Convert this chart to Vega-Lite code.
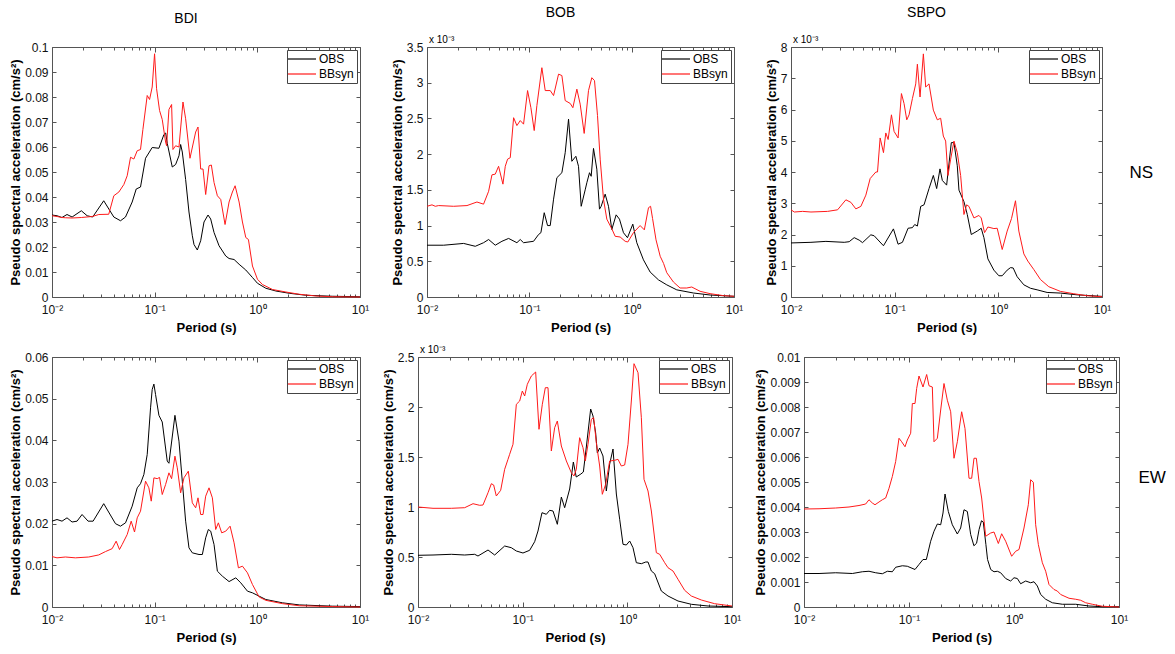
{
  "$schema": "https://vega.github.io/schema/vega-lite/v6.json",
  "padding": {"left": 9, "top": 6, "right": 5, "bottom": 5},
  "config": {
    "font": "Liberation Sans",
    "view": {"stroke": null},
    "axis": {"grid": false, "domainColor": "#555555", "tickColor": "#555555", "domainWidth": 1, "tickWidth": 1, "labelFontSize": 12, "labelColor": "#111111", "labelFont": "Liberation Sans", "titleFont": "Liberation Sans", "titleFontSize": 13, "titleFontWeight": "bold", "titleColor": "#000000", "labelFlush": false},
    "title": {"font": "Liberation Sans", "fontSize": 14, "fontWeight": "normal", "color": "#000000"},
    "legend": {"labelFont": "Liberation Sans"}
  },
  "datasets": {
    "bdi_ns": [
      {"s":"OBS","p":0.01,"v":0.0328},{"s":"OBS","p":0.0112,"v":0.0325},{"s":"OBS","p":0.0125,"v":0.0318},{"s":"OBS","p":0.014,"v":0.033},{"s":"OBS","p":0.0157,"v":0.032},{"s":"OBS","p":0.0193,"v":0.0345},{"s":"OBS","p":0.022,"v":0.0325},{"s":"OBS","p":0.0249,"v":0.032},{"s":"OBS","p":0.0319,"v":0.0385},{"s":"OBS","p":0.04,"v":0.032},{"s":"OBS","p":0.0465,"v":0.0305},{"s":"OBS","p":0.052,"v":0.032},{"s":"OBS","p":0.0604,"v":0.038},{"s":"OBS","p":0.0661,"v":0.0432},{"s":"OBS","p":0.0728,"v":0.044},{"s":"OBS","p":0.0815,"v":0.0555},{"s":"OBS","p":0.0946,"v":0.0598},{"s":"OBS","p":0.11,"v":0.0595},{"s":"OBS","p":0.1231,"v":0.065},{"s":"OBS","p":0.128,"v":0.0656},{"s":"OBS","p":0.1326,"v":0.0615},{"s":"OBS","p":0.1484,"v":0.052},{"s":"OBS","p":0.16,"v":0.053},{"s":"OBS","p":0.1725,"v":0.0565},{"s":"OBS","p":0.179,"v":0.061},{"s":"OBS","p":0.1858,"v":0.058},{"s":"OBS","p":0.2003,"v":0.047},{"s":"OBS","p":0.2159,"v":0.034},{"s":"OBS","p":0.2327,"v":0.0245},{"s":"OBS","p":0.2416,"v":0.021},{"s":"OBS","p":0.2603,"v":0.0188},{"s":"OBS","p":0.2807,"v":0.0225},{"s":"OBS","p":0.3024,"v":0.03},{"s":"OBS","p":0.3309,"v":0.0328},{"s":"OBS","p":0.3513,"v":0.0312},{"s":"OBS","p":0.3787,"v":0.0258},{"s":"OBS","p":0.4237,"v":0.0205},{"s":"OBS","p":0.4924,"v":0.0164},{"s":"OBS","p":0.5305,"v":0.0154},{"s":"OBS","p":0.5937,"v":0.015},{"s":"OBS","p":0.6643,"v":0.0131},{"s":"OBS","p":0.7717,"v":0.0108},{"s":"OBS","p":0.8964,"v":0.0078},{"s":"OBS","p":1.003,"v":0.0055},{"s":"OBS","p":1.21,"v":0.0035},{"s":"OBS","p":1.515,"v":0.0024},{"s":"OBS","p":2.044,"v":0.0015},{"s":"OBS","p":2.97,"v":0.0007},{"s":"OBS","p":5.4,"v":0.0003},{"s":"OBS","p":10,"v":0.0001},
      {"s":"BBsyn","p":0.01,"v":0.0325},{"s":"BBsyn","p":0.0112,"v":0.0322},{"s":"BBsyn","p":0.0125,"v":0.0318},{"s":"BBsyn","p":0.0135,"v":0.0317},{"s":"BBsyn","p":0.0157,"v":0.0316},{"s":"BBsyn","p":0.0193,"v":0.0318},{"s":"BBsyn","p":0.0246,"v":0.0322},{"s":"BBsyn","p":0.0286,"v":0.033},{"s":"BBsyn","p":0.0357,"v":0.0331},{"s":"BBsyn","p":0.04,"v":0.0405},{"s":"BBsyn","p":0.0448,"v":0.042},{"s":"BBsyn","p":0.0501,"v":0.045},{"s":"BBsyn","p":0.054,"v":0.0485},{"s":"BBsyn","p":0.0582,"v":0.0559},{"s":"BBsyn","p":0.0627,"v":0.0552},{"s":"BBsyn","p":0.0676,"v":0.0585},{"s":"BBsyn","p":0.0728,"v":0.059},{"s":"BBsyn","p":0.0768,"v":0.067},{"s":"BBsyn","p":0.0846,"v":0.0806},{"s":"BBsyn","p":0.0892,"v":0.079},{"s":"BBsyn","p":0.0946,"v":0.084},{"s":"BBsyn","p":0.0998,"v":0.0973},{"s":"BBsyn","p":0.1044,"v":0.0833},{"s":"BBsyn","p":0.1116,"v":0.0746},{"s":"BBsyn","p":0.1185,"v":0.071},{"s":"BBsyn","p":0.1278,"v":0.062},{"s":"BBsyn","p":0.1307,"v":0.0605},{"s":"BBsyn","p":0.1377,"v":0.075},{"s":"BBsyn","p":0.1462,"v":0.077},{"s":"BBsyn","p":0.1507,"v":0.059},{"s":"BBsyn","p":0.16,"v":0.0605},{"s":"BBsyn","p":0.1725,"v":0.06},{"s":"BBsyn","p":0.1887,"v":0.078},{"s":"BBsyn","p":0.2003,"v":0.0713},{"s":"BBsyn","p":0.2159,"v":0.0592},{"s":"BBsyn","p":0.2208,"v":0.0555},{"s":"BBsyn","p":0.2508,"v":0.066},{"s":"BBsyn","p":0.2643,"v":0.068},{"s":"BBsyn","p":0.2807,"v":0.0512},{"s":"BBsyn","p":0.2958,"v":0.0512},{"s":"BBsyn","p":0.314,"v":0.041},{"s":"BBsyn","p":0.3384,"v":0.0525},{"s":"BBsyn","p":0.3566,"v":0.0528},{"s":"BBsyn","p":0.3787,"v":0.0458},{"s":"BBsyn","p":0.408,"v":0.0405},{"s":"BBsyn","p":0.44,"v":0.039},{"s":"BBsyn","p":0.4849,"v":0.029},{"s":"BBsyn","p":0.5305,"v":0.038},{"s":"BBsyn","p":0.5718,"v":0.042},{"s":"BBsyn","p":0.6073,"v":0.0445},{"s":"BBsyn","p":0.6643,"v":0.038},{"s":"BBsyn","p":0.716,"v":0.03},{"s":"BBsyn","p":0.7717,"v":0.0238},{"s":"BBsyn","p":0.819,"v":0.023},{"s":"BBsyn","p":0.8964,"v":0.0124},{"s":"BBsyn","p":1.003,"v":0.0071},{"s":"BBsyn","p":1.122,"v":0.005},{"s":"BBsyn","p":1.405,"v":0.003},{"s":"BBsyn","p":1.897,"v":0.002},{"s":"BBsyn","p":2.56,"v":0.0011},{"s":"BBsyn","p":3.72,"v":0.0004},{"s":"BBsyn","p":5.415,"v":0.0001},{"s":"BBsyn","p":10,"v":0}
    ],
    "bob_ns": [
      {"s":"OBS","p":0.01,"v":0.000725},{"s":"OBS","p":0.01455,"v":0.000725},{"s":"OBS","p":0.0228,"v":0.00075},{"s":"OBS","p":0.02964,"v":0.00071},{"s":"OBS","p":0.0357,"v":0.00076},{"s":"OBS","p":0.04,"v":0.000805},{"s":"OBS","p":0.04646,"v":0.000725},{"s":"OBS","p":0.054,"v":0.00078},{"s":"OBS","p":0.0627,"v":0.00082},{"s":"OBS","p":0.0756,"v":0.00076},{"s":"OBS","p":0.0815,"v":0.000805},{"s":"OBS","p":0.0878,"v":0.00076},{"s":"OBS","p":0.11,"v":0.00078},{"s":"OBS","p":0.1231,"v":0.000875},{"s":"OBS","p":0.1297,"v":0.0009},{"s":"OBS","p":0.1398,"v":0.00118},{"s":"OBS","p":0.1507,"v":0.001},{"s":"OBS","p":0.16,"v":0.001},{"s":"OBS","p":0.1725,"v":0.00137},{"s":"OBS","p":0.1858,"v":0.00167},{"s":"OBS","p":0.208,"v":0.00174},{"s":"OBS","p":0.2241,"v":0.00202},{"s":"OBS","p":0.2416,"v":0.00249},{"s":"OBS","p":0.2603,"v":0.0019},{"s":"OBS","p":0.2849,"v":0.00197},{"s":"OBS","p":0.3024,"v":0.00183},{"s":"OBS","p":0.3212,"v":0.00127},{"s":"OBS","p":0.3513,"v":0.0015},{"s":"OBS","p":0.3648,"v":0.0016},{"s":"OBS","p":0.3873,"v":0.00174},{"s":"OBS","p":0.4021,"v":0.00169},{"s":"OBS","p":0.4237,"v":0.00208},{"s":"OBS","p":0.4566,"v":0.00179},{"s":"OBS","p":0.4849,"v":0.00123},{"s":"OBS","p":0.5035,"v":0.00127},{"s":"OBS","p":0.5508,"v":0.00144},{"s":"OBS","p":0.5937,"v":0.00127},{"s":"OBS","p":0.6397,"v":0.000945},{"s":"OBS","p":0.7053,"v":0.00115},{"s":"OBS","p":0.7602,"v":0.00109},{"s":"OBS","p":0.8318,"v":0.0009},{"s":"OBS","p":0.9099,"v":0.00083},{"s":"OBS","p":1.026,"v":0.00102},{"s":"OBS","p":1.122,"v":0.00076},{"s":"OBS","p":1.304,"v":0.00052},{"s":"OBS","p":1.515,"v":0.00035},{"s":"OBS","p":1.827,"v":0.00024},{"s":"OBS","p":2.203,"v":0.00017},{"s":"OBS","p":2.758,"v":0.0001},{"s":"OBS","p":4.012,"v":0.000056},{"s":"OBS","p":5.834,"v":0.000028},{"s":"OBS","p":10,"v":0.00001},
      {"s":"BBsyn","p":0.01,"v":0.00127},{"s":"BBsyn","p":0.01119,"v":0.00129},{"s":"BBsyn","p":0.01206,"v":0.00127},{"s":"BBsyn","p":0.013,"v":0.00128},{"s":"BBsyn","p":0.0182,"v":0.00127},{"s":"BBsyn","p":0.02458,"v":0.00128},{"s":"BBsyn","p":0.03077,"v":0.00133},{"s":"BBsyn","p":0.0357,"v":0.0013},{"s":"BBsyn","p":0.04,"v":0.00148},{"s":"BBsyn","p":0.04311,"v":0.00171},{"s":"BBsyn","p":0.04646,"v":0.00172},{"s":"BBsyn","p":0.05007,"v":0.00183},{"s":"BBsyn","p":0.05521,"v":0.00158},{"s":"BBsyn","p":0.0582,"v":0.00183},{"s":"BBsyn","p":0.0613,"v":0.00193},{"s":"BBsyn","p":0.0651,"v":0.00195},{"s":"BBsyn","p":0.0702,"v":0.00251},{"s":"BBsyn","p":0.0756,"v":0.0024},{"s":"BBsyn","p":0.0815,"v":0.00247},{"s":"BBsyn","p":0.0878,"v":0.00242},{"s":"BBsyn","p":0.0961,"v":0.00289},{"s":"BBsyn","p":0.1036,"v":0.00265},{"s":"BBsyn","p":0.1116,"v":0.00233},{"s":"BBsyn","p":0.1185,"v":0.00268},{"s":"BBsyn","p":0.1326,"v":0.00321},{"s":"BBsyn","p":0.143,"v":0.00289},{"s":"BBsyn","p":0.16,"v":0.00289},{"s":"BBsyn","p":0.1725,"v":0.00282},{"s":"BBsyn","p":0.193,"v":0.00312},{"s":"BBsyn","p":0.208,"v":0.0031},{"s":"BBsyn","p":0.2241,"v":0.00275},{"s":"BBsyn","p":0.2508,"v":0.00271},{"s":"BBsyn","p":0.2663,"v":0.00265},{"s":"BBsyn","p":0.2914,"v":0.00291},{"s":"BBsyn","p":0.314,"v":0.0027},{"s":"BBsyn","p":0.3435,"v":0.00229},{"s":"BBsyn","p":0.3787,"v":0.00289},{"s":"BBsyn","p":0.408,"v":0.00307},{"s":"BBsyn","p":0.4334,"v":0.00303},{"s":"BBsyn","p":0.4636,"v":0.00254},{"s":"BBsyn","p":0.4924,"v":0.00193},{"s":"BBsyn","p":0.5305,"v":0.00137},{"s":"BBsyn","p":0.5718,"v":0.00109},{"s":"BBsyn","p":0.6397,"v":0.000955},{"s":"BBsyn","p":0.6897,"v":0.00085},{"s":"BBsyn","p":0.7717,"v":0.00084},{"s":"BBsyn","p":0.8637,"v":0.00078},{"s":"BBsyn","p":0.9167,"v":0.00077},{"s":"BBsyn","p":1.041,"v":0.0009},{"s":"BBsyn","p":1.21,"v":0.001},{"s":"BBsyn","p":1.33,"v":0.00094},{"s":"BBsyn","p":1.46,"v":0.00125},{"s":"BBsyn","p":1.53,"v":0.00127},{"s":"BBsyn","p":1.6,"v":0.0011},{"s":"BBsyn","p":1.73,"v":0.0008},{"s":"BBsyn","p":1.9,"v":0.00057},{"s":"BBsyn","p":2.05,"v":0.00047},{"s":"BBsyn","p":2.203,"v":0.00034},{"s":"BBsyn","p":2.559,"v":0.00021},{"s":"BBsyn","p":2.973,"v":0.000126},{"s":"BBsyn","p":3.454,"v":0.000126},{"s":"BBsyn","p":3.864,"v":0.00014},{"s":"BBsyn","p":4.661,"v":0.00008},{"s":"BBsyn","p":5.834,"v":0.000047},{"s":"BBsyn","p":7.874,"v":0.000019},{"s":"BBsyn","p":10,"v":0.00001}
    ],
    "sbpo_ns": [
      {"s":"OBS","p":0.01,"v":0.00173},{"s":"OBS","p":0.01558,"v":0.00175},{"s":"OBS","p":0.02172,"v":0.00178},{"s":"OBS","p":0.0326,"v":0.00175},{"s":"OBS","p":0.03642,"v":0.00177},{"s":"OBS","p":0.0407,"v":0.0019},{"s":"OBS","p":0.04547,"v":0.00182},{"s":"OBS","p":0.04896,"v":0.00174},{"s":"OBS","p":0.0589,"v":0.00199},{"s":"OBS","p":0.0634,"v":0.00196},{"s":"OBS","p":0.078,"v":0.00164},{"s":"OBS","p":0.0973,"v":0.00218},{"s":"OBS","p":0.1079,"v":0.00169},{"s":"OBS","p":0.1188,"v":0.00175},{"s":"OBS","p":0.1347,"v":0.0022},{"s":"OBS","p":0.1483,"v":0.00222},{"s":"OBS","p":0.1561,"v":0.00232},{"s":"OBS","p":0.1656,"v":0.00227},{"s":"OBS","p":0.1783,"v":0.0029},{"s":"OBS","p":0.192,"v":0.00295},{"s":"OBS","p":0.2145,"v":0.00347},{"s":"OBS","p":0.2361,"v":0.00389},{"s":"OBS","p":0.2542,"v":0.00347},{"s":"OBS","p":0.2737,"v":0.0041},{"s":"OBS","p":0.2883,"v":0.00373},{"s":"OBS","p":0.3172,"v":0.00358},{"s":"OBS","p":0.3519,"v":0.00494},{"s":"OBS","p":0.3733,"v":0.00494},{"s":"OBS","p":0.4019,"v":0.0042},{"s":"OBS","p":0.417,"v":0.00342},{"s":"OBS","p":0.4659,"v":0.00305},{"s":"OBS","p":0.5017,"v":0.00264},{"s":"OBS","p":0.5483,"v":0.002},{"s":"OBS","p":0.626,"v":0.00211},{"s":"OBS","p":0.684,"v":0.0022},{"s":"OBS","p":0.7259,"v":0.0019},{"s":"OBS","p":0.7932,"v":0.00122},{"s":"OBS","p":0.9057,"v":0.00086},{"s":"OBS","p":1.012,"v":0.00068},{"s":"OBS","p":1.09,"v":0.00068},{"s":"OBS","p":1.217,"v":0.00086},{"s":"OBS","p":1.31,"v":0.00094},{"s":"OBS","p":1.39,"v":0.00093},{"s":"OBS","p":1.519,"v":0.00065},{"s":"OBS","p":1.762,"v":0.00039},{"s":"OBS","p":2.042,"v":0.00028},{"s":"OBS","p":2.366,"v":0.00023},{"s":"OBS","p":2.953,"v":0.000146},{"s":"OBS","p":3.97,"v":0.000126},{"s":"OBS","p":5.742,"v":0.00007},{"s":"OBS","p":10,"v":0.00002},
      {"s":"BBsyn","p":0.01,"v":0.00279},{"s":"BBsyn","p":0.01077,"v":0.00272},{"s":"BBsyn","p":0.01295,"v":0.00274},{"s":"BBsyn","p":0.01558,"v":0.00272},{"s":"BBsyn","p":0.02254,"v":0.00274},{"s":"BBsyn","p":0.02813,"v":0.00279},{"s":"BBsyn","p":0.03383,"v":0.00311},{"s":"BBsyn","p":0.0378,"v":0.00303},{"s":"BBsyn","p":0.04223,"v":0.00282},{"s":"BBsyn","p":0.04718,"v":0.0029},{"s":"BBsyn","p":0.05272,"v":0.00326},{"s":"BBsyn","p":0.05801,"v":0.00379},{"s":"BBsyn","p":0.0658,"v":0.004},{"s":"BBsyn","p":0.0683,"v":0.004},{"s":"BBsyn","p":0.0724,"v":0.00509},{"s":"BBsyn","p":0.078,"v":0.00462},{"s":"BBsyn","p":0.0821,"v":0.00525},{"s":"BBsyn","p":0.0865,"v":0.00504},{"s":"BBsyn","p":0.0931,"v":0.00583},{"s":"BBsyn","p":0.0987,"v":0.0053},{"s":"BBsyn","p":0.1079,"v":0.00509},{"s":"BBsyn","p":0.1162,"v":0.00651},{"s":"BBsyn","p":0.1232,"v":0.00619},{"s":"BBsyn","p":0.1308,"v":0.00567},{"s":"BBsyn","p":0.1377,"v":0.00583},{"s":"BBsyn","p":0.1483,"v":0.00635},{"s":"BBsyn","p":0.1597,"v":0.00682},{"s":"BBsyn","p":0.1656,"v":0.00745},{"s":"BBsyn","p":0.1757,"v":0.0064},{"s":"BBsyn","p":0.1892,"v":0.00778},{"s":"BBsyn","p":0.1992,"v":0.00672},{"s":"BBsyn","p":0.2145,"v":0.00682},{"s":"BBsyn","p":0.2361,"v":0.00598},{"s":"BBsyn","p":0.2579,"v":0.00567},{"s":"BBsyn","p":0.2778,"v":0.00572},{"s":"BBsyn","p":0.2947,"v":0.00515},{"s":"BBsyn","p":0.3103,"v":0.00499},{"s":"BBsyn","p":0.3268,"v":0.00389},{"s":"BBsyn","p":0.3467,"v":0.00441},{"s":"BBsyn","p":0.3733,"v":0.00499},{"s":"BBsyn","p":0.4019,"v":0.00462},{"s":"BBsyn","p":0.4328,"v":0.00389},{"s":"BBsyn","p":0.4659,"v":0.00264},{"s":"BBsyn","p":0.4942,"v":0.00295},{"s":"BBsyn","p":0.5206,"v":0.0029},{"s":"BBsyn","p":0.5815,"v":0.00253},{"s":"BBsyn","p":0.6497,"v":0.00261},{"s":"BBsyn","p":0.684,"v":0.00253},{"s":"BBsyn","p":0.7367,"v":0.00206},{"s":"BBsyn","p":0.7932,"v":0.00224},{"s":"BBsyn","p":0.9057,"v":0.00219},{"s":"BBsyn","p":0.975,"v":0.0022},{"s":"BBsyn","p":1.09,"v":0.00152},{"s":"BBsyn","p":1.217,"v":0.00211},{"s":"BBsyn","p":1.34,"v":0.00251},{"s":"BBsyn","p":1.464,"v":0.00308},{"s":"BBsyn","p":1.577,"v":0.00211},{"s":"BBsyn","p":1.762,"v":0.00138},{"s":"BBsyn","p":1.925,"v":0.00115},{"s":"BBsyn","p":2.198,"v":0.00088},{"s":"BBsyn","p":2.548,"v":0.00056},{"s":"BBsyn","p":3.065,"v":0.00033},{"s":"BBsyn","p":3.97,"v":0.00018},{"s":"BBsyn","p":5.333,"v":0.000105},{"s":"BBsyn","p":7.166,"v":0.00004},{"s":"BBsyn","p":10,"v":0.00001}
    ],
    "bdi_ew": [
      {"s":"OBS","p":0.01,"v":0.0206},{"s":"OBS","p":0.01119,"v":0.021},{"s":"OBS","p":0.01252,"v":0.0206},{"s":"OBS","p":0.014,"v":0.0214},{"s":"OBS","p":0.01568,"v":0.0204},{"s":"OBS","p":0.01754,"v":0.0206},{"s":"OBS","p":0.01963,"v":0.0222},{"s":"OBS","p":0.02246,"v":0.0206},{"s":"OBS","p":0.02514,"v":0.0206},{"s":"OBS","p":0.0319,"v":0.0248},{"s":"OBS","p":0.04152,"v":0.02},{"s":"OBS","p":0.04645,"v":0.0194},{"s":"OBS","p":0.052,"v":0.0202},{"s":"OBS","p":0.0604,"v":0.0242},{"s":"OBS","p":0.0676,"v":0.0286},{"s":"OBS","p":0.0728,"v":0.0296},{"s":"OBS","p":0.0785,"v":0.0318},{"s":"OBS","p":0.0846,"v":0.0366},{"s":"OBS","p":0.0912,"v":0.0478},{"s":"OBS","p":0.0946,"v":0.0522},{"s":"OBS","p":0.0983,"v":0.0535},{"s":"OBS","p":0.102,"v":0.051},{"s":"OBS","p":0.11,"v":0.046},{"s":"OBS","p":0.1185,"v":0.0444},{"s":"OBS","p":0.1326,"v":0.035},{"s":"OBS","p":0.1377,"v":0.0345},{"s":"OBS","p":0.1576,"v":0.046},{"s":"OBS","p":0.1725,"v":0.0398},{"s":"OBS","p":0.1858,"v":0.0302},{"s":"OBS","p":0.2003,"v":0.0206},{"s":"OBS","p":0.2159,"v":0.0142},{"s":"OBS","p":0.2327,"v":0.013},{"s":"OBS","p":0.2703,"v":0.0126},{"s":"OBS","p":0.2914,"v":0.0126},{"s":"OBS","p":0.314,"v":0.0166},{"s":"OBS","p":0.3334,"v":0.0186},{"s":"OBS","p":0.3513,"v":0.0182},{"s":"OBS","p":0.3787,"v":0.015},{"s":"OBS","p":0.408,"v":0.0086},{"s":"OBS","p":0.4566,"v":0.0074},{"s":"OBS","p":0.5305,"v":0.0061},{"s":"OBS","p":0.6165,"v":0.007},{"s":"OBS","p":0.6897,"v":0.0058},{"s":"OBS","p":0.8013,"v":0.0038},{"s":"OBS","p":0.8964,"v":0.0034},{"s":"OBS","p":1.041,"v":0.0026},{"s":"OBS","p":1.21,"v":0.0018},{"s":"OBS","p":1.76,"v":0.001},{"s":"OBS","p":2.56,"v":0.0005},{"s":"OBS","p":5.415,"v":0.0002},{"s":"OBS","p":10,"v":0.0001},
      {"s":"BBsyn","p":0.01,"v":0.0121},{"s":"BBsyn","p":0.01119,"v":0.0118},{"s":"BBsyn","p":0.0135,"v":0.012},{"s":"BBsyn","p":0.0169,"v":0.0118},{"s":"BBsyn","p":0.0228,"v":0.012},{"s":"BBsyn","p":0.02855,"v":0.0125},{"s":"BBsyn","p":0.03317,"v":0.0133},{"s":"BBsyn","p":0.03853,"v":0.014},{"s":"BBsyn","p":0.04215,"v":0.0158},{"s":"BBsyn","p":0.04543,"v":0.0138},{"s":"BBsyn","p":0.04824,"v":0.015},{"s":"BBsyn","p":0.054,"v":0.0174},{"s":"BBsyn","p":0.05905,"v":0.0206},{"s":"BBsyn","p":0.06366,"v":0.018},{"s":"BBsyn","p":0.0676,"v":0.0214},{"s":"BBsyn","p":0.0728,"v":0.023},{"s":"BBsyn","p":0.0815,"v":0.0302},{"s":"BBsyn","p":0.0878,"v":0.0286},{"s":"BBsyn","p":0.0926,"v":0.0254},{"s":"BBsyn","p":0.0983,"v":0.031},{"s":"BBsyn","p":0.1059,"v":0.0308},{"s":"BBsyn","p":0.1116,"v":0.0311},{"s":"BBsyn","p":0.1185,"v":0.027},{"s":"BBsyn","p":0.1278,"v":0.0294},{"s":"BBsyn","p":0.1377,"v":0.0322},{"s":"BBsyn","p":0.1462,"v":0.0308},{"s":"BBsyn","p":0.1576,"v":0.0362},{"s":"BBsyn","p":0.1661,"v":0.0334},{"s":"BBsyn","p":0.179,"v":0.0274},{"s":"BBsyn","p":0.193,"v":0.031},{"s":"BBsyn","p":0.2127,"v":0.0326},{"s":"BBsyn","p":0.2327,"v":0.025},{"s":"BBsyn","p":0.2508,"v":0.0238},{"s":"BBsyn","p":0.2643,"v":0.0262},{"s":"BBsyn","p":0.2807,"v":0.0222},{"s":"BBsyn","p":0.2958,"v":0.0222},{"s":"BBsyn","p":0.314,"v":0.0266},{"s":"BBsyn","p":0.3384,"v":0.0286},{"s":"BBsyn","p":0.3648,"v":0.0262},{"s":"BBsyn","p":0.3931,"v":0.0186},{"s":"BBsyn","p":0.4173,"v":0.0202},{"s":"BBsyn","p":0.4498,"v":0.0178},{"s":"BBsyn","p":0.4924,"v":0.0182},{"s":"BBsyn","p":0.5428,"v":0.0194},{"s":"BBsyn","p":0.5937,"v":0.0154},{"s":"BBsyn","p":0.6543,"v":0.0094},{"s":"BBsyn","p":0.716,"v":0.0098},{"s":"BBsyn","p":0.8013,"v":0.0082},{"s":"BBsyn","p":0.8964,"v":0.0054},{"s":"BBsyn","p":1.041,"v":0.0024},{"s":"BBsyn","p":1.21,"v":0.0016},{"s":"BBsyn","p":1.76,"v":0.0008},{"s":"BBsyn","p":2.56,"v":0.0003},{"s":"BBsyn","p":5.415,"v":0.0001},{"s":"BBsyn","p":10,"v":0}
    ],
    "bob_ew": [
      {"s":"OBS","p":0.01,"v":0.000517},{"s":"OBS","p":0.01391,"v":0.00052},{"s":"OBS","p":0.02082,"v":0.000527},{"s":"OBS","p":0.02792,"v":0.00052},{"s":"OBS","p":0.03478,"v":0.000527},{"s":"OBS","p":0.03743,"v":0.00051},{"s":"OBS","p":0.04666,"v":0.00057},{"s":"OBS","p":0.05402,"v":0.00052},{"s":"OBS","p":0.0673,"v":0.00061},{"s":"OBS","p":0.0779,"v":0.000593},{"s":"OBS","p":0.08699,"v":0.00056},{"s":"OBS","p":0.1007,"v":0.00054},{"s":"OBS","p":0.1166,"v":0.000567},{"s":"OBS","p":0.1302,"v":0.000653},{"s":"OBS","p":0.1401,"v":0.00076},{"s":"OBS","p":0.153,"v":0.000943},{"s":"OBS","p":0.1683,"v":0.000927},{"s":"OBS","p":0.1811,"v":0.000967},{"s":"OBS","p":0.1949,"v":0.00096},{"s":"OBS","p":0.2144,"v":0.000827},{"s":"OBS","p":0.2342,"v":0.0011},{"s":"OBS","p":0.2519,"v":0.000993},{"s":"OBS","p":0.2812,"v":0.00118},{"s":"OBS","p":0.305,"v":0.00145},{"s":"OBS","p":0.325,"v":0.0013},{"s":"OBS","p":0.36,"v":0.00133},{"s":"OBS","p":0.38,"v":0.00135},{"s":"OBS","p":0.4057,"v":0.0016},{"s":"OBS","p":0.4464,"v":0.00198},{"s":"OBS","p":0.4699,"v":0.00191},{"s":"OBS","p":0.4983,"v":0.00174},{"s":"OBS","p":0.5169,"v":0.00154},{"s":"OBS","p":0.5441,"v":0.00159},{"s":"OBS","p":0.5854,"v":0.00151},{"s":"OBS","p":0.63,"v":0.00116},{"s":"OBS","p":0.6781,"v":0.00143},{"s":"OBS","p":0.7297,"v":0.00158},{"s":"OBS","p":0.7854,"v":0.00113},{"s":"OBS","p":0.845,"v":0.000877},{"s":"OBS","p":0.9092,"v":0.000627},{"s":"OBS","p":0.978,"v":0.00062},{"s":"OBS","p":1.053,"v":0.00066},{"s":"OBS","p":1.133,"v":0.000593},{"s":"OBS","p":1.219,"v":0.000443},{"s":"OBS","p":1.361,"v":0.000433},{"s":"OBS","p":1.5,"v":0.00045},{"s":"OBS","p":1.576,"v":0.00045},{"s":"OBS","p":1.696,"v":0.00036},{"s":"OBS","p":1.824,"v":0.000333},{"s":"OBS","p":2.113,"v":0.00016},{"s":"OBS","p":2.446,"v":0.00011},{"s":"OBS","p":3.049,"v":0.00006},{"s":"OBS","p":4.089,"v":0.000027},{"s":"OBS","p":5.898,"v":0.00001},{"s":"OBS","p":10,"v":0.000003},
      {"s":"BBsyn","p":0.01,"v":0.001},{"s":"BBsyn","p":0.01391,"v":0.000987},{"s":"BBsyn","p":0.02082,"v":0.000987},{"s":"BBsyn","p":0.02792,"v":0.000993},{"s":"BBsyn","p":0.03355,"v":0.001033},{"s":"BBsyn","p":0.03883,"v":0.001017},{"s":"BBsyn","p":0.04178,"v":0.00102},{"s":"BBsyn","p":0.04666,"v":0.001143},{"s":"BBsyn","p":0.05022,"v":0.001233},{"s":"BBsyn","p":0.05284,"v":0.00122},{"s":"BBsyn","p":0.05602,"v":0.00111},{"s":"BBsyn","p":0.06164,"v":0.001167},{"s":"BBsyn","p":0.0673,"v":0.001377},{"s":"BBsyn","p":0.07241,"v":0.001477},{"s":"BBsyn","p":0.07511,"v":0.001527},{"s":"BBsyn","p":0.08084,"v":0.001627},{"s":"BBsyn","p":0.08699,"v":0.002027},{"s":"BBsyn","p":0.09361,"v":0.00206},{"s":"BBsyn","p":0.09926,"v":0.00216},{"s":"BBsyn","p":0.1045,"v":0.00211},{"s":"BBsyn","p":0.1108,"v":0.002227},{"s":"BBsyn","p":0.121,"v":0.00231},{"s":"BBsyn","p":0.1331,"v":0.00235},{"s":"BBsyn","p":0.1432,"v":0.001777},{"s":"BBsyn","p":0.1541,"v":0.002027},{"s":"BBsyn","p":0.1646,"v":0.002193},{"s":"BBsyn","p":0.1746,"v":0.002193},{"s":"BBsyn","p":0.1879,"v":0.00156},{"s":"BBsyn","p":0.2021,"v":0.001793},{"s":"BBsyn","p":0.2144,"v":0.00186},{"s":"BBsyn","p":0.2342,"v":0.00161},{"s":"BBsyn","p":0.2615,"v":0.00146},{"s":"BBsyn","p":0.2917,"v":0.001343},{"s":"BBsyn","p":0.3093,"v":0.00131},{"s":"BBsyn","p":0.3256,"v":0.001377},{"s":"BBsyn","p":0.3504,"v":0.001693},{"s":"BBsyn","p":0.3771,"v":0.001593},{"s":"BBsyn","p":0.3968,"v":0.00146},{"s":"BBsyn","p":0.4209,"v":0.001627},{"s":"BBsyn","p":0.453,"v":0.001877},{"s":"BBsyn","p":0.4769,"v":0.001893},{"s":"BBsyn","p":0.5056,"v":0.001643},{"s":"BBsyn","p":0.5441,"v":0.00141},{"s":"BBsyn","p":0.5768,"v":0.001127},{"s":"BBsyn","p":0.6209,"v":0.001227},{"s":"BBsyn","p":0.6781,"v":0.00146},{"s":"BBsyn","p":0.7568,"v":0.001467},{"s":"BBsyn","p":0.8145,"v":0.001477},{"s":"BBsyn","p":0.8765,"v":0.00141},{"s":"BBsyn","p":0.943,"v":0.00142},{"s":"BBsyn","p":1.015,"v":0.001627},{"s":"BBsyn","p":1.092,"v":0.00206},{"s":"BBsyn","p":1.158,"v":0.002433},{"s":"BBsyn","p":1.265,"v":0.002343},{"s":"BBsyn","p":1.361,"v":0.001893},{"s":"BBsyn","p":1.443,"v":0.001277},{"s":"BBsyn","p":1.576,"v":0.00116},{"s":"BBsyn","p":1.696,"v":0.00096},{"s":"BBsyn","p":1.893,"v":0.000543},{"s":"BBsyn","p":2.037,"v":0.000527},{"s":"BBsyn","p":2.274,"v":0.000443},{"s":"BBsyn","p":2.446,"v":0.000393},{"s":"BBsyn","p":2.731,"v":0.00036},{"s":"BBsyn","p":3.049,"v":0.000277},{"s":"BBsyn","p":3.53,"v":0.000167},{"s":"BBsyn","p":4.089,"v":0.00011},{"s":"BBsyn","p":5.093,"v":0.00007},{"s":"BBsyn","p":6.83,"v":0.000033},{"s":"BBsyn","p":10,"v":0.00001}
    ],
    "sbpo_ew": [
      {"s":"OBS","p":0.01,"v":0.00134},{"s":"OBS","p":0.0139,"v":0.00134},{"s":"OBS","p":0.02003,"v":0.00137},{"s":"OBS","p":0.02886,"v":0.00134},{"s":"OBS","p":0.03594,"v":0.00141},{"s":"OBS","p":0.04159,"v":0.00143},{"s":"OBS","p":0.04815,"v":0.00137},{"s":"OBS","p":0.05572,"v":0.00133},{"s":"OBS","p":0.06219,"v":0.00143},{"s":"OBS","p":0.06938,"v":0.00141},{"s":"OBS","p":0.07465,"v":0.00159},{"s":"OBS","p":0.08639,"v":0.00165},{"s":"OBS","p":0.09641,"v":0.00163},{"s":"OBS","p":0.1141,"v":0.0015},{"s":"OBS","p":0.1245,"v":0.0017},{"s":"OBS","p":0.1359,"v":0.0019},{"s":"OBS","p":0.1463,"v":0.0019},{"s":"OBS","p":0.1608,"v":0.00263},{"s":"OBS","p":0.173,"v":0.00303},{"s":"OBS","p":0.1862,"v":0.00332},{"s":"OBS","p":0.2003,"v":0.00329},{"s":"OBS","p":0.2108,"v":0.00376},{"s":"OBS","p":0.2203,"v":0.00452},{"s":"OBS","p":0.2369,"v":0.00382},{"s":"OBS","p":0.2586,"v":0.00329},{"s":"OBS","p":0.2886,"v":0.00292},{"s":"OBS","p":0.3105,"v":0.00316},{"s":"OBS","p":0.3341,"v":0.00389},{"s":"OBS","p":0.3594,"v":0.00382},{"s":"OBS","p":0.3867,"v":0.0029},{"s":"OBS","p":0.415,"v":0.00245},{"s":"OBS","p":0.44,"v":0.00255},{"s":"OBS","p":0.465,"v":0.0031},{"s":"OBS","p":0.49,"v":0.00345},{"s":"OBS","p":0.51,"v":0.0034},{"s":"OBS","p":0.54,"v":0.0025},{"s":"OBS","p":0.56,"v":0.0019},{"s":"OBS","p":0.6,"v":0.0015},{"s":"OBS","p":0.6451,"v":0.00141},{"s":"OBS","p":0.6939,"v":0.00143},{"s":"OBS","p":0.7465,"v":0.00137},{"s":"OBS","p":0.833,"v":0.00114},{"s":"OBS","p":0.9296,"v":0.00104},{"s":"OBS","p":1.0,"v":0.00117},{"s":"OBS","p":1.076,"v":0.00114},{"s":"OBS","p":1.157,"v":0.00093},{"s":"OBS","p":1.292,"v":0.00104},{"s":"OBS","p":1.441,"v":0.00097},{"s":"OBS","p":1.551,"v":0.00101},{"s":"OBS","p":1.668,"v":0.00084},{"s":"OBS","p":1.795,"v":0.0005},{"s":"OBS","p":2.003,"v":0.00031},{"s":"OBS","p":2.318,"v":0.00017},{"s":"OBS","p":2.886,"v":0.00011},{"s":"OBS","p":3.867,"v":0.00011},{"s":"OBS","p":5.179,"v":0.00004},{"s":"OBS","p":6.939,"v":0.000013},{"s":"OBS","p":10,"v":0.000013},
      {"s":"BBsyn","p":0.01,"v":0.00392},{"s":"BBsyn","p":0.0139,"v":0.00393},{"s":"BBsyn","p":0.02003,"v":0.00396},{"s":"BBsyn","p":0.02683,"v":0.004},{"s":"BBsyn","p":0.03341,"v":0.00406},{"s":"BBsyn","p":0.03867,"v":0.00412},{"s":"BBsyn","p":0.04159,"v":0.00429},{"s":"BBsyn","p":0.04476,"v":0.00416},{"s":"BBsyn","p":0.04745,"v":0.00409},{"s":"BBsyn","p":0.05179,"v":0.0042},{"s":"BBsyn","p":0.05572,"v":0.00429},{"s":"BBsyn","p":0.05995,"v":0.00436},{"s":"BBsyn","p":0.06451,"v":0.00475},{"s":"BBsyn","p":0.06938,"v":0.00522},{"s":"BBsyn","p":0.07465,"v":0.00582},{"s":"BBsyn","p":0.08032,"v":0.00675},{"s":"BBsyn","p":0.08513,"v":0.00661},{"s":"BBsyn","p":0.09161,"v":0.00641},{"s":"BBsyn","p":0.09641,"v":0.00668},{"s":"BBsyn","p":0.1037,"v":0.00695},{"s":"BBsyn","p":0.1076,"v":0.00814},{"s":"BBsyn","p":0.1141,"v":0.00814},{"s":"BBsyn","p":0.1183,"v":0.00874},{"s":"BBsyn","p":0.1245,"v":0.00924},{"s":"BBsyn","p":0.1359,"v":0.0088},{"s":"BBsyn","p":0.1473,"v":0.0093},{"s":"BBsyn","p":0.1551,"v":0.00885},{"s":"BBsyn","p":0.1668,"v":0.0088},{"s":"BBsyn","p":0.173,"v":0.00661},{"s":"BBsyn","p":0.1862,"v":0.00675},{"s":"BBsyn","p":0.2003,"v":0.00788},{"s":"BBsyn","p":0.2154,"v":0.00894},{"s":"BBsyn","p":0.2318,"v":0.00827},{"s":"BBsyn","p":0.2494,"v":0.00781},{"s":"BBsyn","p":0.2683,"v":0.00595},{"s":"BBsyn","p":0.2886,"v":0.00661},{"s":"BBsyn","p":0.3174,"v":0.00781},{"s":"BBsyn","p":0.3415,"v":0.00714},{"s":"BBsyn","p":0.3728,"v":0.00515},{"s":"BBsyn","p":0.3953,"v":0.00515},{"s":"BBsyn","p":0.4159,"v":0.00595},{"s":"BBsyn","p":0.4378,"v":0.00595},{"s":"BBsyn","p":0.4642,"v":0.00502},{"s":"BBsyn","p":0.4921,"v":0.00436},{"s":"BBsyn","p":0.5373,"v":0.00283},{"s":"BBsyn","p":0.5995,"v":0.00296},{"s":"BBsyn","p":0.6451,"v":0.003},{"s":"BBsyn","p":0.7093,"v":0.00254},{"s":"BBsyn","p":0.7631,"v":0.00293},{"s":"BBsyn","p":0.833,"v":0.00263},{"s":"BBsyn","p":0.9502,"v":0.00203},{"s":"BBsyn","p":1.037,"v":0.00223},{"s":"BBsyn","p":1.116,"v":0.0023},{"s":"BBsyn","p":1.245,"v":0.00316},{"s":"BBsyn","p":1.369,"v":0.00409},{"s":"BBsyn","p":1.441,"v":0.00509},{"s":"BBsyn","p":1.528,"v":0.00499},{"s":"BBsyn","p":1.608,"v":0.00329},{"s":"BBsyn","p":1.705,"v":0.0025},{"s":"BBsyn","p":1.862,"v":0.00177},{"s":"BBsyn","p":2.003,"v":0.00143},{"s":"BBsyn","p":2.154,"v":0.0009},{"s":"BBsyn","p":2.404,"v":0.0007},{"s":"BBsyn","p":2.586,"v":0.00064},{"s":"BBsyn","p":2.783,"v":0.0005},{"s":"BBsyn","p":3.341,"v":0.00035},{"s":"BBsyn","p":3.867,"v":0.00031},{"s":"BBsyn","p":4.314,"v":0.00027},{"s":"BBsyn","p":4.815,"v":0.00017},{"s":"BBsyn","p":5.572,"v":0.00011},{"s":"BBsyn","p":6.939,"v":0.00003},{"s":"BBsyn","p":10,"v":0}
    ]
  },
  "vconcat": [
    {
      "hconcat": [
        {
          "width": 308, "height": 250,
          "title": {"text": "BDI", "frame": "group", "offset": 15, "dx": -20},
          "data": {"name": "bdi_ns"},
          "layer": [
            {"mark": {"type": "line", "strokeWidth": 1},
             "encoding": {
               "x": {"field": "p", "type": "quantitative", "scale": {"type": "log", "domain": [0.01, 10]}, "axis": {"orient": "bottom", "values": [0.01, 0.1, 1, 10], "labelExpr": "datum.value == 0.01 ? '10⁻²' : datum.value == 0.1 ? '10⁻¹' : datum.value == 1 ? '10⁰' : '10¹'", "tickSize": -5, "labelPadding": 12, "title": "Period (s)", "titlePadding": 6}},
               "y": {"field": "v", "type": "quantitative", "scale": {"domain": [0, 0.1], "nice": false}, "axis": {"orient": "left", "values": [0, 0.01, 0.02, 0.03, 0.04, 0.05, 0.06, 0.07, 0.08, 0.09, 0.1], "format": "~g", "tickSize": -4, "labelPadding": 8, "title": "Pseudo spectral acceleration (cm/s²)", "titlePadding": 2}},
               "stroke": {"field": "s", "type": "nominal", "scale": {"domain": ["OBS", "BBsyn"], "range": ["#000000", "#ff1a1a"]}, "legend": {"title": null, "orient": "top-right", "offset": 3, "symbolType": "M-3.5,0H3.5", "symbolSize": 64, "symbolStrokeWidth": 1.2, "symbolOffset": 6, "labelOffset": 11, "labelFontSize": 12, "padding": 3, "rowPadding": 3, "strokeColor": "#444444", "fillColor": "#ffffff"}}
             }},
            {"data": {"values": [{}]}, "mark": {"type": "point", "opacity": 0},
             "encoding": {
               "x": {"datum": 0.01, "type": "quantitative", "scale": {"type": "log", "domain": [0.01, 10]}, "axis": {"orient": "top", "values": [0.01, 0.1, 1, 10], "labels": false, "tickSize": -5, "title": null}},
               "y": {"datum": 0, "type": "quantitative", "scale": {"domain": [0, 0.1], "nice": false}, "axis": {"orient": "right", "values": [0, 0.01, 0.02, 0.03, 0.04, 0.05, 0.06, 0.07, 0.08, 0.09, 0.1], "labels": false, "tickSize": -4, "title": null}}
             }},
            {"data": {"values": [{}]}, "mark": {"type": "point", "opacity": 0},
             "encoding": {"x": {"datum": 0.01, "type": "quantitative", "scale": {"type": "log", "domain": [0.01, 10]}, "axis": {"orient": "bottom", "values": [0.02, 0.03, 0.04, 0.05, 0.06, 0.07, 0.08, 0.09, 0.2, 0.3, 0.4, 0.5, 0.6, 0.7, 0.8, 0.9, 2, 3, 4, 5, 6, 7, 8, 9], "labels": false, "domain": false, "tickSize": -3, "title": null}},
                          "y": {"datum": 0, "type": "quantitative", "scale": {"domain": [0, 0.1], "nice": false}, "axis": null}}},
            {"data": {"values": [{}]}, "mark": {"type": "point", "opacity": 0},
             "encoding": {"x": {"datum": 0.01, "type": "quantitative", "scale": {"type": "log", "domain": [0.01, 10]}, "axis": {"orient": "top", "values": [0.02, 0.03, 0.04, 0.05, 0.06, 0.07, 0.08, 0.09, 0.2, 0.3, 0.4, 0.5, 0.6, 0.7, 0.8, 0.9, 2, 3, 4, 5, 6, 7, 8, 9], "labels": false, "domain": false, "tickSize": -3, "title": null}},
                          "y": {"datum": 0, "type": "quantitative", "scale": {"domain": [0, 0.1], "nice": false}, "axis": null}}}
          ],
          "resolve": {"axis": {"x": "independent", "y": "independent"}}
        },
        {
          "width": 307, "height": 250,
          "title": {"text": "BOB", "frame": "group", "offset": 15, "dx": -20},
          "data": {"name": "bob_ns"},
          "layer": [
            {"mark": {"type": "line", "strokeWidth": 1},
             "encoding": {
               "x": {"field": "p", "type": "quantitative", "scale": {"type": "log", "domain": [0.01, 10]}, "axis": {"orient": "bottom", "values": [0.01, 0.1, 1, 10], "labelExpr": "datum.value == 0.01 ? '10⁻²' : datum.value == 0.1 ? '10⁻¹' : datum.value == 1 ? '10⁰' : '10¹'", "tickSize": -5, "labelPadding": 12, "title": "Period (s)", "titlePadding": 6}},
               "y": {"field": "v", "type": "quantitative", "scale": {"domain": [0, 0.0035], "nice": false}, "axis": {"orient": "left", "values": [0, 0.0005, 0.001, 0.0015, 0.002, 0.0025, 0.003, 0.0035], "labelExpr": "format(datum.value * 1000, '~g')", "tickSize": -4, "labelPadding": 8, "title": "Pseudo spectral acceleration (cm/s²)", "titlePadding": 2}},
               "stroke": {"field": "s", "type": "nominal", "scale": {"domain": ["OBS", "BBsyn"], "range": ["#000000", "#ff1a1a"]}, "legend": {"title": null, "orient": "top-right", "offset": 3, "symbolType": "M-3.5,0H3.5", "symbolSize": 64, "symbolStrokeWidth": 1.2, "symbolOffset": 6, "labelOffset": 11, "labelFontSize": 12, "padding": 3, "rowPadding": 3, "strokeColor": "#444444", "fillColor": "#ffffff"}}
             }},
            {"data": {"values": [{}]}, "mark": {"type": "point", "opacity": 0},
             "encoding": {
               "x": {"datum": 0.01, "type": "quantitative", "scale": {"type": "log", "domain": [0.01, 10]}, "axis": {"orient": "top", "values": [0.01, 0.1, 1, 10], "labels": false, "tickSize": -5, "title": null}},
               "y": {"datum": 0, "type": "quantitative", "scale": {"domain": [0, 0.0035], "nice": false}, "axis": {"orient": "right", "values": [0, 0.0005, 0.001, 0.0015, 0.002, 0.0025, 0.003, 0.0035], "labels": false, "tickSize": -4, "title": null}}
             }},
            {"data": {"values": [{}]}, "mark": {"type": "point", "opacity": 0},
             "encoding": {"x": {"datum": 0.01, "type": "quantitative", "scale": {"type": "log", "domain": [0.01, 10]}, "axis": {"orient": "bottom", "values": [0.02, 0.03, 0.04, 0.05, 0.06, 0.07, 0.08, 0.09, 0.2, 0.3, 0.4, 0.5, 0.6, 0.7, 0.8, 0.9, 2, 3, 4, 5, 6, 7, 8, 9], "labels": false, "domain": false, "tickSize": -3, "title": null}},
                          "y": {"datum": 0, "type": "quantitative", "scale": {"domain": [0, 0.0035], "nice": false}, "axis": null}}},
            {"data": {"values": [{}]}, "mark": {"type": "point", "opacity": 0},
             "encoding": {"x": {"datum": 0.01, "type": "quantitative", "scale": {"type": "log", "domain": [0.01, 10]}, "axis": {"orient": "top", "values": [0.02, 0.03, 0.04, 0.05, 0.06, 0.07, 0.08, 0.09, 0.2, 0.3, 0.4, 0.5, 0.6, 0.7, 0.8, 0.9, 2, 3, 4, 5, 6, 7, 8, 9], "labels": false, "domain": false, "tickSize": -3, "title": null}},
                          "y": {"datum": 0, "type": "quantitative", "scale": {"domain": [0, 0.0035], "nice": false}, "axis": null}}},
            {"data": {"values": [{"t": "x 10⁻³"}]}, "mark": {"type": "text", "align": "left", "baseline": "bottom", "dx": 2, "dy": -2, "fontSize": 10},
             "encoding": {"x": {"datum": 0.01, "type": "quantitative", "scale": {"type": "log", "domain": [0.01, 10]}, "axis": null}, "y": {"datum": 0.0035, "type": "quantitative", "scale": {"domain": [0, 0.0035], "nice": false}, "axis": null}, "text": {"field": "t"}}}
          ],
          "resolve": {"axis": {"x": "independent", "y": "independent"}}
        },
        {
          "width": 311, "height": 250,
          "title": {"text": "SBPO", "frame": "group", "offset": 15, "dx": -20},
          "data": {"name": "sbpo_ns"},
          "layer": [
            {"mark": {"type": "line", "strokeWidth": 1},
             "encoding": {
               "x": {"field": "p", "type": "quantitative", "scale": {"type": "log", "domain": [0.01, 10]}, "axis": {"orient": "bottom", "values": [0.01, 0.1, 1, 10], "labelExpr": "datum.value == 0.01 ? '10⁻²' : datum.value == 0.1 ? '10⁻¹' : datum.value == 1 ? '10⁰' : '10¹'", "tickSize": -5, "labelPadding": 12, "title": "Period (s)", "titlePadding": 6}},
               "y": {"field": "v", "type": "quantitative", "scale": {"domain": [0, 0.008], "nice": false}, "axis": {"orient": "left", "values": [0, 0.001, 0.002, 0.003, 0.004, 0.005, 0.006, 0.007, 0.008], "labelExpr": "format(datum.value * 1000, '~g')", "tickSize": -4, "labelPadding": 8, "title": "Pseudo spectral acceleration (cm/s²)", "titlePadding": 2}},
               "stroke": {"field": "s", "type": "nominal", "scale": {"domain": ["OBS", "BBsyn"], "range": ["#000000", "#ff1a1a"]}, "legend": {"title": null, "orient": "top-right", "offset": 3, "symbolType": "M-3.5,0H3.5", "symbolSize": 64, "symbolStrokeWidth": 1.2, "symbolOffset": 6, "labelOffset": 11, "labelFontSize": 12, "padding": 3, "rowPadding": 3, "strokeColor": "#444444", "fillColor": "#ffffff"}}
             }},
            {"data": {"values": [{}]}, "mark": {"type": "point", "opacity": 0},
             "encoding": {
               "x": {"datum": 0.01, "type": "quantitative", "scale": {"type": "log", "domain": [0.01, 10]}, "axis": {"orient": "top", "values": [0.01, 0.1, 1, 10], "labels": false, "tickSize": -5, "title": null}},
               "y": {"datum": 0, "type": "quantitative", "scale": {"domain": [0, 0.008], "nice": false}, "axis": {"orient": "right", "values": [0, 0.001, 0.002, 0.003, 0.004, 0.005, 0.006, 0.007, 0.008], "labels": false, "tickSize": -4, "title": "NS", "titleAngle": 0, "titleFontSize": 17, "titleFontWeight": "normal", "titleAlign": "left", "titleBaseline": "middle", "titleX": 27, "titleY": 125}}
             }},
            {"data": {"values": [{}]}, "mark": {"type": "point", "opacity": 0},
             "encoding": {"x": {"datum": 0.01, "type": "quantitative", "scale": {"type": "log", "domain": [0.01, 10]}, "axis": {"orient": "bottom", "values": [0.02, 0.03, 0.04, 0.05, 0.06, 0.07, 0.08, 0.09, 0.2, 0.3, 0.4, 0.5, 0.6, 0.7, 0.8, 0.9, 2, 3, 4, 5, 6, 7, 8, 9], "labels": false, "domain": false, "tickSize": -3, "title": null}},
                          "y": {"datum": 0, "type": "quantitative", "scale": {"domain": [0, 0.008], "nice": false}, "axis": null}}},
            {"data": {"values": [{}]}, "mark": {"type": "point", "opacity": 0},
             "encoding": {"x": {"datum": 0.01, "type": "quantitative", "scale": {"type": "log", "domain": [0.01, 10]}, "axis": {"orient": "top", "values": [0.02, 0.03, 0.04, 0.05, 0.06, 0.07, 0.08, 0.09, 0.2, 0.3, 0.4, 0.5, 0.6, 0.7, 0.8, 0.9, 2, 3, 4, 5, 6, 7, 8, 9], "labels": false, "domain": false, "tickSize": -3, "title": null}},
                          "y": {"datum": 0, "type": "quantitative", "scale": {"domain": [0, 0.008], "nice": false}, "axis": null}}},
            {"data": {"values": [{"t": "x 10⁻³"}]}, "mark": {"type": "text", "align": "left", "baseline": "bottom", "dx": 2, "dy": -2, "fontSize": 10},
             "encoding": {"x": {"datum": 0.01, "type": "quantitative", "scale": {"type": "log", "domain": [0.01, 10]}, "axis": null}, "y": {"datum": 0.008, "type": "quantitative", "scale": {"domain": [0, 0.008], "nice": false}, "axis": null}, "text": {"field": "t"}}}
          ],
          "resolve": {"axis": {"x": "independent", "y": "independent"}}
        }
      ],
      "spacing": 22,
      "resolve": {"scale": {"stroke": "independent"}, "legend": {"stroke": "independent"}}
    },
    {
      "hconcat": [
        {
          "width": 308, "height": 250,
          "data": {"name": "bdi_ew"},
          "layer": [
            {"mark": {"type": "line", "strokeWidth": 1},
             "encoding": {
               "x": {"field": "p", "type": "quantitative", "scale": {"type": "log", "domain": [0.01, 10]}, "axis": {"orient": "bottom", "values": [0.01, 0.1, 1, 10], "labelExpr": "datum.value == 0.01 ? '10⁻²' : datum.value == 0.1 ? '10⁻¹' : datum.value == 1 ? '10⁰' : '10¹'", "tickSize": -5, "labelPadding": 12, "title": "Period (s)", "titlePadding": 6}},
               "y": {"field": "v", "type": "quantitative", "scale": {"domain": [0, 0.06], "nice": false}, "axis": {"orient": "left", "values": [0, 0.01, 0.02, 0.03, 0.04, 0.05, 0.06], "format": "~g", "tickSize": -4, "labelPadding": 8, "title": "Pseudo spectral acceleration (cm/s²)", "titlePadding": 2}},
               "stroke": {"field": "s", "type": "nominal", "scale": {"domain": ["OBS", "BBsyn"], "range": ["#000000", "#ff1a1a"]}, "legend": {"title": null, "orient": "top-right", "offset": 3, "symbolType": "M-3.5,0H3.5", "symbolSize": 64, "symbolStrokeWidth": 1.2, "symbolOffset": 6, "labelOffset": 11, "labelFontSize": 12, "padding": 3, "rowPadding": 3, "strokeColor": "#444444", "fillColor": "#ffffff"}}
             }},
            {"data": {"values": [{}]}, "mark": {"type": "point", "opacity": 0},
             "encoding": {
               "x": {"datum": 0.01, "type": "quantitative", "scale": {"type": "log", "domain": [0.01, 10]}, "axis": {"orient": "top", "values": [0.01, 0.1, 1, 10], "labels": false, "tickSize": -5, "title": null}},
               "y": {"datum": 0, "type": "quantitative", "scale": {"domain": [0, 0.06], "nice": false}, "axis": {"orient": "right", "values": [0, 0.01, 0.02, 0.03, 0.04, 0.05, 0.06], "labels": false, "tickSize": -4, "title": null}}
             }},
            {"data": {"values": [{}]}, "mark": {"type": "point", "opacity": 0},
             "encoding": {"x": {"datum": 0.01, "type": "quantitative", "scale": {"type": "log", "domain": [0.01, 10]}, "axis": {"orient": "bottom", "values": [0.02, 0.03, 0.04, 0.05, 0.06, 0.07, 0.08, 0.09, 0.2, 0.3, 0.4, 0.5, 0.6, 0.7, 0.8, 0.9, 2, 3, 4, 5, 6, 7, 8, 9], "labels": false, "domain": false, "tickSize": -3, "title": null}},
                          "y": {"datum": 0, "type": "quantitative", "scale": {"domain": [0, 0.06], "nice": false}, "axis": null}}},
            {"data": {"values": [{}]}, "mark": {"type": "point", "opacity": 0},
             "encoding": {"x": {"datum": 0.01, "type": "quantitative", "scale": {"type": "log", "domain": [0.01, 10]}, "axis": {"orient": "top", "values": [0.02, 0.03, 0.04, 0.05, 0.06, 0.07, 0.08, 0.09, 0.2, 0.3, 0.4, 0.5, 0.6, 0.7, 0.8, 0.9, 2, 3, 4, 5, 6, 7, 8, 9], "labels": false, "domain": false, "tickSize": -3, "title": null}},
                          "y": {"datum": 0, "type": "quantitative", "scale": {"domain": [0, 0.06], "nice": false}, "axis": null}}}
          ],
          "resolve": {"axis": {"x": "independent", "y": "independent"}}
        },
        {
          "width": 314, "height": 250,
          "data": {"name": "bob_ew"},
          "layer": [
            {"mark": {"type": "line", "strokeWidth": 1},
             "encoding": {
               "x": {"field": "p", "type": "quantitative", "scale": {"type": "log", "domain": [0.01, 10]}, "axis": {"orient": "bottom", "values": [0.01, 0.1, 1, 10], "labelExpr": "datum.value == 0.01 ? '10⁻²' : datum.value == 0.1 ? '10⁻¹' : datum.value == 1 ? '10⁰' : '10¹'", "tickSize": -5, "labelPadding": 12, "title": "Period (s)", "titlePadding": 6}},
               "y": {"field": "v", "type": "quantitative", "scale": {"domain": [0, 0.0025], "nice": false}, "axis": {"orient": "left", "values": [0, 0.0005, 0.001, 0.0015, 0.002, 0.0025], "labelExpr": "format(datum.value * 1000, '~g')", "tickSize": -4, "labelPadding": 8, "title": "Pseudo spectral acceleration (cm/s²)", "titlePadding": 2}},
               "stroke": {"field": "s", "type": "nominal", "scale": {"domain": ["OBS", "BBsyn"], "range": ["#000000", "#ff1a1a"]}, "legend": {"title": null, "orient": "top-right", "offset": 3, "symbolType": "M-3.5,0H3.5", "symbolSize": 64, "symbolStrokeWidth": 1.2, "symbolOffset": 6, "labelOffset": 11, "labelFontSize": 12, "padding": 3, "rowPadding": 3, "strokeColor": "#444444", "fillColor": "#ffffff"}}
             }},
            {"data": {"values": [{}]}, "mark": {"type": "point", "opacity": 0},
             "encoding": {
               "x": {"datum": 0.01, "type": "quantitative", "scale": {"type": "log", "domain": [0.01, 10]}, "axis": {"orient": "top", "values": [0.01, 0.1, 1, 10], "labels": false, "tickSize": -5, "title": null}},
               "y": {"datum": 0, "type": "quantitative", "scale": {"domain": [0, 0.0025], "nice": false}, "axis": {"orient": "right", "values": [0, 0.0005, 0.001, 0.0015, 0.002, 0.0025], "labels": false, "tickSize": -4, "title": null}}
             }},
            {"data": {"values": [{}]}, "mark": {"type": "point", "opacity": 0},
             "encoding": {"x": {"datum": 0.01, "type": "quantitative", "scale": {"type": "log", "domain": [0.01, 10]}, "axis": {"orient": "bottom", "values": [0.02, 0.03, 0.04, 0.05, 0.06, 0.07, 0.08, 0.09, 0.2, 0.3, 0.4, 0.5, 0.6, 0.7, 0.8, 0.9, 2, 3, 4, 5, 6, 7, 8, 9], "labels": false, "domain": false, "tickSize": -3, "title": null}},
                          "y": {"datum": 0, "type": "quantitative", "scale": {"domain": [0, 0.0025], "nice": false}, "axis": null}}},
            {"data": {"values": [{}]}, "mark": {"type": "point", "opacity": 0},
             "encoding": {"x": {"datum": 0.01, "type": "quantitative", "scale": {"type": "log", "domain": [0.01, 10]}, "axis": {"orient": "top", "values": [0.02, 0.03, 0.04, 0.05, 0.06, 0.07, 0.08, 0.09, 0.2, 0.3, 0.4, 0.5, 0.6, 0.7, 0.8, 0.9, 2, 3, 4, 5, 6, 7, 8, 9], "labels": false, "domain": false, "tickSize": -3, "title": null}},
                          "y": {"datum": 0, "type": "quantitative", "scale": {"domain": [0, 0.0025], "nice": false}, "axis": null}}},
            {"data": {"values": [{"t": "x 10⁻³"}]}, "mark": {"type": "text", "align": "left", "baseline": "bottom", "dx": 2, "dy": -2, "fontSize": 10},
             "encoding": {"x": {"datum": 0.01, "type": "quantitative", "scale": {"type": "log", "domain": [0.01, 10]}, "axis": null}, "y": {"datum": 0.0025, "type": "quantitative", "scale": {"domain": [0, 0.0025], "nice": false}, "axis": null}, "text": {"field": "t"}}}
          ],
          "resolve": {"axis": {"x": "independent", "y": "independent"}}
        },
        {
          "width": 315, "height": 250,
          "data": {"name": "sbpo_ew"},
          "layer": [
            {"mark": {"type": "line", "strokeWidth": 1},
             "encoding": {
               "x": {"field": "p", "type": "quantitative", "scale": {"type": "log", "domain": [0.01, 10]}, "axis": {"orient": "bottom", "values": [0.01, 0.1, 1, 10], "labelExpr": "datum.value == 0.01 ? '10⁻²' : datum.value == 0.1 ? '10⁻¹' : datum.value == 1 ? '10⁰' : '10¹'", "tickSize": -5, "labelPadding": 12, "title": "Period (s)", "titlePadding": 6}},
               "y": {"field": "v", "type": "quantitative", "scale": {"domain": [0, 0.01], "nice": false}, "axis": {"orient": "left", "values": [0, 0.001, 0.002, 0.003, 0.004, 0.005, 0.006, 0.007, 0.008, 0.009, 0.01], "format": "~g", "tickSize": -4, "labelPadding": 8, "title": "Pseudo spectral acceleration (cm/s²)", "titlePadding": 2}},
               "stroke": {"field": "s", "type": "nominal", "scale": {"domain": ["OBS", "BBsyn"], "range": ["#000000", "#ff1a1a"]}, "legend": {"title": null, "orient": "top-right", "offset": 3, "symbolType": "M-3.5,0H3.5", "symbolSize": 64, "symbolStrokeWidth": 1.2, "symbolOffset": 6, "labelOffset": 11, "labelFontSize": 12, "padding": 3, "rowPadding": 3, "strokeColor": "#444444", "fillColor": "#ffffff"}}
             }},
            {"data": {"values": [{}]}, "mark": {"type": "point", "opacity": 0},
             "encoding": {
               "x": {"datum": 0.01, "type": "quantitative", "scale": {"type": "log", "domain": [0.01, 10]}, "axis": {"orient": "top", "values": [0.01, 0.1, 1, 10], "labels": false, "tickSize": -5, "title": null}},
               "y": {"datum": 0, "type": "quantitative", "scale": {"domain": [0, 0.01], "nice": false}, "axis": {"orient": "right", "values": [0, 0.001, 0.002, 0.003, 0.004, 0.005, 0.006, 0.007, 0.008, 0.009, 0.01], "labels": false, "tickSize": -4, "title": "EW", "titleAngle": 0, "titleFontSize": 17, "titleFontWeight": "normal", "titleAlign": "left", "titleBaseline": "middle", "titleX": 19, "titleY": 120}}
             }},
            {"data": {"values": [{}]}, "mark": {"type": "point", "opacity": 0},
             "encoding": {"x": {"datum": 0.01, "type": "quantitative", "scale": {"type": "log", "domain": [0.01, 10]}, "axis": {"orient": "bottom", "values": [0.02, 0.03, 0.04, 0.05, 0.06, 0.07, 0.08, 0.09, 0.2, 0.3, 0.4, 0.5, 0.6, 0.7, 0.8, 0.9, 2, 3, 4, 5, 6, 7, 8, 9], "labels": false, "domain": false, "tickSize": -3, "title": null}},
                          "y": {"datum": 0, "type": "quantitative", "scale": {"domain": [0, 0.01], "nice": false}, "axis": null}}},
            {"data": {"values": [{}]}, "mark": {"type": "point", "opacity": 0},
             "encoding": {"x": {"datum": 0.01, "type": "quantitative", "scale": {"type": "log", "domain": [0.01, 10]}, "axis": {"orient": "top", "values": [0.02, 0.03, 0.04, 0.05, 0.06, 0.07, 0.08, 0.09, 0.2, 0.3, 0.4, 0.5, 0.6, 0.7, 0.8, 0.9, 2, 3, 4, 5, 6, 7, 8, 9], "labels": false, "domain": false, "tickSize": -3, "title": null}},
                          "y": {"datum": 0, "type": "quantitative", "scale": {"domain": [0, 0.01], "nice": false}, "axis": null}}}
          ],
          "resolve": {"axis": {"x": "independent", "y": "independent"}}
        }
      ],
      "spacing": 13,
      "resolve": {"scale": {"stroke": "independent"}, "legend": {"stroke": "independent"}}
    }
  ],
  "spacing": 11,
  "resolve": {"scale": {"stroke": "independent"}, "legend": {"stroke": "independent"}}
}
